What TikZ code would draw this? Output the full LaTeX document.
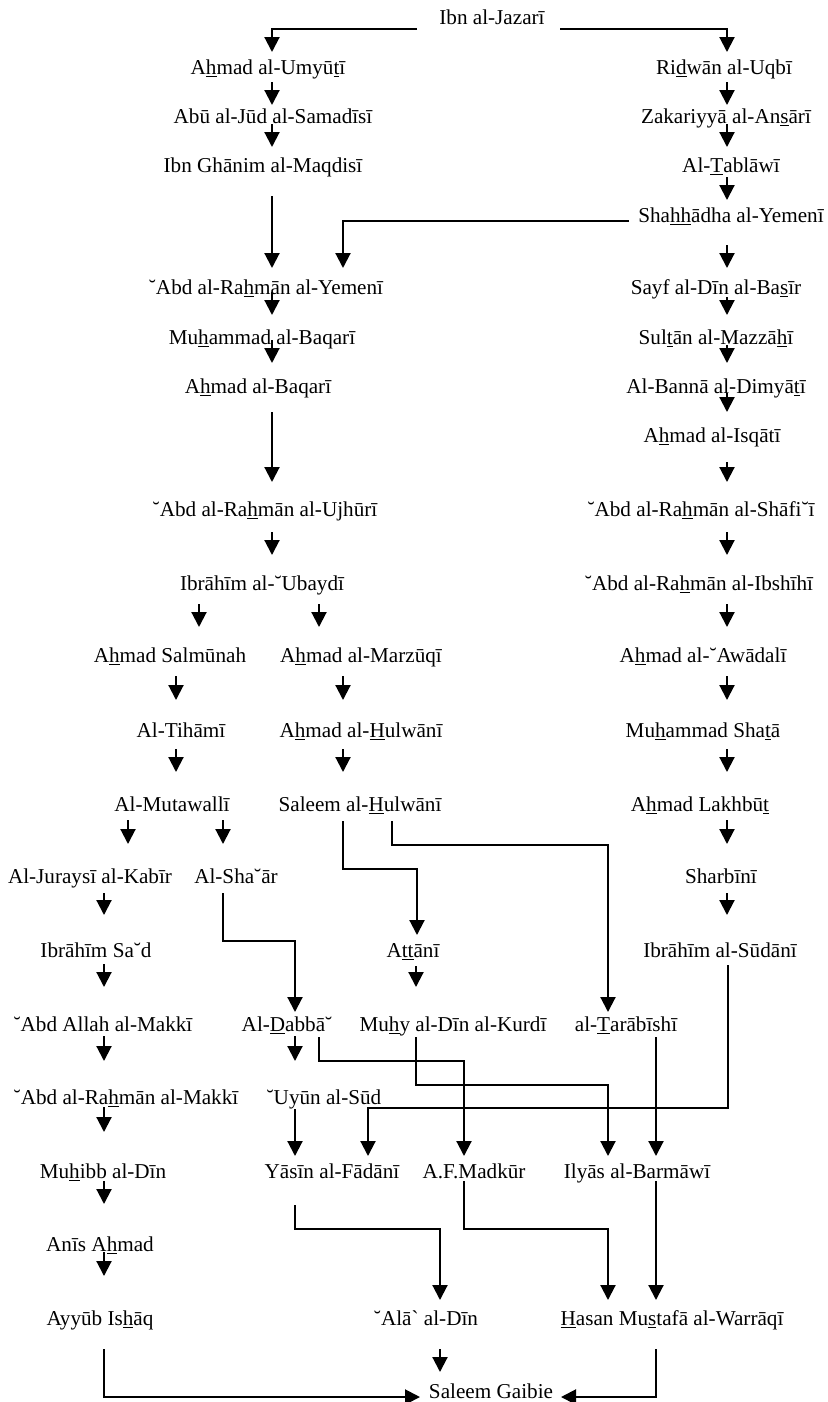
\documentclass[tikz,border=0pt]{standalone}
\usepackage{fontspec}
\setmainfont{Liberation Serif}
\usetikzlibrary{arrows.meta,calc}

\newcommand{\ulet}[1]{\underline{#1}}

\begin{document}
\begin{tikzpicture}[
        x=0.6pt,
        y=-0.6pt,
        font=\fontsize{12.7}{15}\selectfont,
        person/.style={inner sep=0pt, text height=10.5pt, text depth=2pt},
        link/.style={-{Triangle[width=9pt,length=9pt]}, line width=1.25pt}
    ]
        \useasboundingbox (0,0) rectangle (828,1402);

        % names of the chain
        \foreach \nm/\x/\y/\txt in {
            jazari/492/17/{Ibn al-Jazarī},
            umyuti/268/67/{A\ulet{h}mad al-Umyū\ulet{t}ī},
            abujud/273/116/{Abū al-Jūd al-Samadīsī},
            ghanim/263/165/{Ibn Ghānim al-Maqdisī},
            yemeni/266/287/{˘Abd al-Ra\ulet{h}mān al-Yemenī},
            mbaqari/262/337/{Mu\ulet{h}ammad al-Baqarī},
            abaqari/258/386/{A\ulet{h}mad al-Baqarī},
            ujhuri/265/509/{˘Abd al-Ra\ulet{h}mān al-Ujhūrī},
            ubaydi/262/583/{Ibrāhīm al-˘Ubaydī},
            ridwan/724/67/{Ri\ulet{d}wān al-Uqbī},
            zakariyya/726/116/{Zakariyyā al-An\ulet{s}ārī},
            tablawi/731/165/{Al-\ulet{T}ablāwī},
            shahhadha/731/215/{Sha\ulet{hh}ādha al-Yemenī},
            sayf/716/287/{Sayf al-Dīn al-Ba\ulet{s}īr},
            sultan/716/337/{Sul\ulet{t}ān al-Mazzā\ulet{h}ī},
            banna/716/386/{Al-Bannā al-Dimyā\ulet{t}ī},
            isqati/712/435/{A\ulet{h}mad al-Isqātī},
            shafii/701/509/{˘Abd al-Ra\ulet{h}mān al-Shāfi˘ī},
            ibshihi/699/583/{˘Abd al-Ra\ulet{h}mān al-Ibshīhī},
            salmunah/170/655/{A\ulet{h}mad Salmūnah},
            marzuqi/361/655/{A\ulet{h}mad al-Marzūqī},
            awadali/703/655/{A\ulet{h}mad al-˘Awādalī},
            tihami/181/730/{Al-Tihāmī},
            ahulwani/361/730/{A\ulet{h}mad al-\ulet{H}ulwānī},
            shata/703/730/{Mu\ulet{h}ammad Sha\ulet{t}ā},
            mutawalli/172/804/{Al-Mutawallī},
            shulwani/360/804/{Saleem al-\ulet{H}ulwānī},
            lakhbut/700/804/{A\ulet{h}mad Lakhbū\ulet{t}},
            jurays/90/876/{Al-Juraysī al-Kabīr},
            shaar/236/876/{Al-Sha˘ār},
            sharbini/721/876/{Sharbīnī},
            saad/96/950/{Ibrāhīm Sa˘d},
            attani/413/950/{A\ulet{tt}ānī},
            sudani/720/950/{Ibrāhīm al-Sūdānī},
            amakki/103/1024/{˘Abd Allah al-Makkī},
            dabba/287/1024/{Al-\ulet{D}abbā˘},
            kurdi/453/1024/{Mu\ulet{h}y al-Dīn al-Kurdī},
            tarabishi/626/1024/{al-\ulet{T}arābīshī},
            rmakki/126/1097/{˘Abd al-Ra\ulet{h}mān al-Makkī},
            uyun/324/1097/{˘Uyūn al-Sūd},
            muhibb/103/1171/{Mu\ulet{h}ibb al-Dīn},
            fadani/332/1171/{Yāsīn al-Fādānī},
            madkur/474/1171/{A.F.Madkūr},
            barmawi/637/1171/{Ilyās al-Barmāwī},
            anis/100/1244/{Anīs A\ulet{h}mad},
            ayyub/100/1318/{Ayyūb Is\ulet{h}āq},
            ala/426/1318/{˘Alā\textasciigrave{} al-Dīn},
            hasan/672/1318/{\ulet{H}asan Mu\ulet{s}tafā al-Warrāqī},
            gaibie/491/1391/{Saleem Gaibie}} {
            \node[person] (\nm) at (\x,\y) {\txt};
        }

        % x of the straight arrows
        \foreach \c/\x in {colL/272,colR/727,cUbA/199,cUbB/319,cTih/176,cHul/343,cJur/128,
                           cSha/223,cMak/104,cAtt/416,cDab/295,cBar/656,cAla/440} {
            \coordinate (\c) at (\x,0);
        }

        % straight arrows: from/to/column/gap below/gap above
        \foreach \a/\b/\c/\s/\e in {
            umyuti/abujud/colL/15/11, abujud/ghanim/colL/8/18, ghanim/yemeni/colL/31/19,
            yemeni/mbaqari/colL/5/22, mbaqari/abaqari/colL/3/23, abaqari/ujhuri/colL/26/27,
            ujhuri/ubaydi/colL/23/28, ubaydi/salmunah/cUbA/21/28, ubaydi/marzuqi/cUbB/21/28,
            salmunah/tihami/cTih/21/30, marzuqi/ahulwani/cHul/21/30,
            tihami/mutawalli/cTih/19/32, ahulwani/shulwani/cHul/19/32,
            mutawalli/jurays/cJur/16/32, mutawalli/shaar/cSha/16/32,
            jurays/saad/cMak/17/35, saad/amakki/cMak/14/37, amakki/rmakki/cMak/12/36,
            rmakki/muhibb/cMak/10/39, muhibb/anis/cMak/10/40, anis/ayyub/cMak/8/42,
            attani/kurdi/cAtt/16/37, dabba/uyun/cDab/12/36, uyun/fadani/cDab/12/15,
            tarabishi/barmawi/cBar/13/15, barmawi/hasan/cBar/10/18, ala/gaibie/cAla/31/19,
            ridwan/zakariyya/colR/15/11, zakariyya/tablawi/colR/8/18, tablawi/shahhadha/colR/12/15,
            shahhadha/sayf/colR/30/19, sayf/sultan/colR/10/22, sultan/banna/colR/8/23,
            banna/isqati/colR/7/23, isqati/shafii/colR/27/27, shafii/ibshihi/colR/23/28,
            ibshihi/awadali/colR/21/28, awadali/shata/colR/21/30, shata/lakhbut/colR/19/32,
            lakhbut/sharbini/colR/16/32, sharbini/sudani/colR/17/35} {
            \draw[link] ($(\a.center -| \c)+(0,\s)$) -- ($(\b.center -| \c)-(0,\e)$);
        }

        % top split
        \draw[link] ($(jazari.center)+(-75,12)$) -| ($(umyuti.center -| colL)+(0,-15)$);
        \draw[link] ($(jazari.center)+(68,12)$) -| ($(ridwan.center -| colR)+(0,-15)$);
        \draw[link] ($(shahhadha.center)+(-102,6)$) -| ($(yemeni.center)+(77,-19)$);

        % crossing links lower down
        \draw[link] ($(shulwani.center)+(-17,17)$) -- ++(0,48) -| ($(attani.center)+(4,-15)$);
        \draw[link] ($(shulwani.center)+(32,17)$) -- ++(0,24) -| ($(tarabishi.center)+(-18,-12)$);
        \draw[link] ($(shaar.center)+(-13,17)$) -- ++(0,48) -| ($(dabba.center)+(8,-12)$);
        \draw[link] ($(dabba.center)+(32,13)$) -- ++(0,24) -| ($(madkur.center)+(-10,-15)$);
        \draw[link] ($(kurdi.center)+(-37,13)$) -- ++(0,48) -| ($(barmawi.center)+(-29,-15)$);
        \draw[link] ($(sudani.center)+(8,15)$) -- ++(0,143) -| ($(fadani.center)+(36,-15)$);
        \draw[link] ($(fadani.center)+(-37,34)$) -- ++(0,24) -| ($(ala.center)+(14,-18)$);
        \draw[link] ($(madkur.center)+(-10,10)$) -- ++(0,48) -| ($(hasan.center)+(-64,-18)$);

        % into Saleem Gaibie
        \draw[link] ($(ayyub.center)+(4,31)$) |- ($(gaibie.center)+(-71,6)$);
        \draw[link] ($(hasan.center)+(-16,31)$) |- ($(gaibie.center)+(70,6)$);
    \end{tikzpicture}
\end{document}
